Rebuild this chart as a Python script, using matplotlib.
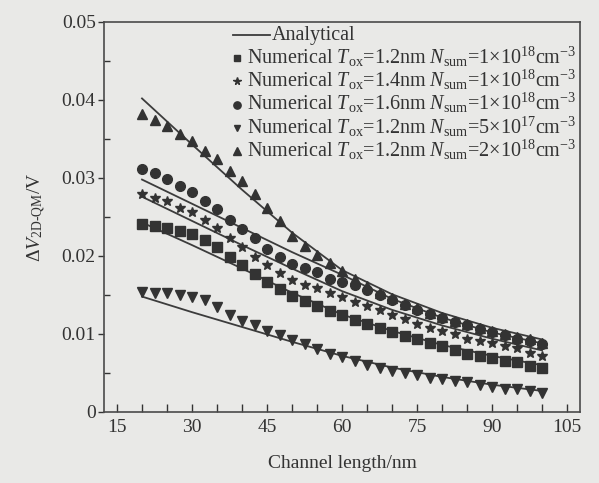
import numpy as np
import matplotlib
matplotlib.use("Agg")
import matplotlib.pyplot as plt
from matplotlib.ticker import MultipleLocator, FixedLocator, FixedFormatter

plt.rcParams['font.family'] = ['Liberation Serif', 'DejaVu Serif']
plt.rcParams['mathtext.fontset'] = 'custom'
plt.rcParams['mathtext.rm'] = 'Liberation Serif'
plt.rcParams['mathtext.it'] = 'Liberation Serif:italic'

# longueur du canal (nm) pour les points numeriques
L_num = np.arange(20, 100.1, 2.5)
# longueur du canal pour les courbes analytiques
L_ana = [20, 30, 40, 50, 60, 70, 80, 90, 100]

# courbes analytiques
ana_12_1e18 = [0.0243, 0.0214, 0.0184, 0.0153, 0.0125, 0.0104, 0.0086, 0.0072, 0.0060]
ana_14_1e18 = [0.0276, 0.0245, 0.0214, 0.0184, 0.0155, 0.0131, 0.0111, 0.0094, 0.0079]
ana_16_1e18 = [0.0298, 0.0267, 0.0236, 0.0205, 0.0176, 0.0145, 0.0121, 0.0102, 0.0088]
ana_12_5e17 = [0.0148, 0.0128, 0.0109, 0.0090, 0.0072, 0.0057, 0.0045, 0.0035, 0.0027]
ana_12_2e18 = [0.0402, 0.0343, 0.0285, 0.0230, 0.0182, 0.0151, 0.0127, 0.0108, 0.0093]

# resultats numeriques
num_12_1e18 = [0.0241, 0.0239, 0.0236, 0.0232, 0.0228, 0.0221, 0.0211, 0.0199, 0.0188,
               0.0177, 0.0167, 0.0158, 0.0149, 0.0142, 0.0136, 0.0129, 0.0124, 0.0118,
               0.0113, 0.0108, 0.0103, 0.0097, 0.0093, 0.0088, 0.0084, 0.0079, 0.0075,
               0.0072, 0.0069, 0.0066, 0.0064, 0.0059, 0.0056]
num_14_1e18 = [0.0279, 0.0274, 0.0270, 0.0262, 0.0256, 0.0246, 0.0236, 0.0223, 0.0211,
               0.0199, 0.0188, 0.0178, 0.0169, 0.0163, 0.0159, 0.0152, 0.0148, 0.0141,
               0.0136, 0.0131, 0.0125, 0.0119, 0.0113, 0.0108, 0.0104, 0.0100, 0.0094,
               0.0091, 0.0088, 0.0085, 0.0082, 0.0076, 0.0072]
num_16_1e18 = [0.0312, 0.0306, 0.0299, 0.0290, 0.0282, 0.0271, 0.0260, 0.0246, 0.0235,
               0.0223, 0.0209, 0.0199, 0.0190, 0.0184, 0.0180, 0.0171, 0.0167, 0.0163,
               0.0156, 0.0150, 0.0144, 0.0137, 0.0131, 0.0126, 0.0120, 0.0116, 0.0112,
               0.0106, 0.0102, 0.0099, 0.0094, 0.0091, 0.0087]
num_12_5e17 = [0.0154, 0.0153, 0.0152, 0.0150, 0.0148, 0.0143, 0.0135, 0.0125, 0.0117,
               0.0112, 0.0104, 0.0099, 0.0092, 0.0087, 0.0081, 0.0074, 0.0070, 0.0065,
               0.0060, 0.0056, 0.0053, 0.0050, 0.0047, 0.0044, 0.0042, 0.0040, 0.0038,
               0.0035, 0.0032, 0.0030, 0.0029, 0.0027, 0.0025]
num_12_2e18 = [0.0382, 0.0375, 0.0367, 0.0357, 0.0347, 0.0335, 0.0324, 0.0309, 0.0296,
               0.0279, 0.0261, 0.0245, 0.0226, 0.0213, 0.0201, 0.0191, 0.0181, 0.0171,
               0.0161, 0.0153, 0.0146, 0.0139, 0.0133, 0.0127, 0.0122, 0.0117, 0.0113,
               0.0108, 0.0104, 0.0100, 0.0096, 0.0093, 0.0089]

etiquetas = [
    r"Numerical $T_{\rm ox}$=1.2nm $N_{\rm sum}$=1×10$^{18}$cm$^{-3}$",
    r"Numerical $T_{\rm ox}$=1.4nm $N_{\rm sum}$=1×10$^{18}$cm$^{-3}$",
    r"Numerical $T_{\rm ox}$=1.6nm $N_{\rm sum}$=1×10$^{18}$cm$^{-3}$",
    r"Numerical $T_{\rm ox}$=1.2nm $N_{\rm sum}$=5×10$^{17}$cm$^{-3}$",
    r"Numerical $T_{\rm ox}$=1.2nm $N_{\rm sum}$=2×10$^{18}$cm$^{-3}$",
]
marcadores = ['s', '*', 'o', 'v', '^']
tamanhos = [6.5, 7.5, 7, 6.5, 7]

x_ticks = [15, 30, 45, 60, 75, 90, 105]
y_ticks = [0, 0.01, 0.02, 0.03, 0.04, 0.05]
y_rotulos = ['0', '0.01', '0.02', '0.03', '0.04', '0.05']

cor_fundo = '#e9e9e7'
cor_tinta = '#333333'

fig = plt.figure(figsize=(5.99, 4.83), dpi=100, facecolor=cor_fundo)
ax = fig.add_axes([104 / 599, 1 - 412 / 483, 476 / 599, 390 / 483])
ax.set_facecolor(cor_fundo)

for ana in [ana_12_1e18, ana_14_1e18, ana_16_1e18, ana_12_5e17, ana_12_2e18]:
    ax.plot(L_ana, ana, color='#3c3c3c', lw=1.3, zorder=2)

series = [num_12_1e18, num_14_1e18, num_16_1e18, num_12_5e17, num_12_2e18]
for vals, m, s in zip(series, marcadores, tamanhos):
    ax.plot(L_num, vals, ls='none', marker=m, ms=s, color=cor_tinta, mec=cor_tinta, zorder=3)

ax.set_xlim(12.4, 107.6)
ax.set_ylim(0, 0.05)
ax.xaxis.set_major_locator(FixedLocator(x_ticks))
ax.xaxis.set_minor_locator(MultipleLocator(5))
ax.yaxis.set_major_locator(FixedLocator(y_ticks))
ax.yaxis.set_major_formatter(FixedFormatter(y_rotulos))
ax.yaxis.set_minor_locator(FixedLocator([0.005, 0.015, 0.025, 0.035, 0.045]))

ax.tick_params(axis='x', which='both', direction='in', length=6, width=1,
               colors=cor_tinta, labelsize=14, pad=5)
ax.tick_params(axis='y', which='major', direction='out', length=4, width=1,
               colors=cor_tinta, labelsize=14, pad=2)
ax.tick_params(axis='y', which='minor', direction='in', length=4, width=1, colors=cor_tinta)
for sp in ax.spines.values():
    sp.set_color('#4a4a4a')
    sp.set_linewidth(1.2)

ax.set_xlabel('Channel length/nm', fontsize=14, color=cor_tinta, labelpad=14)
ax.set_ylabel(r'$\mathit{\Delta} V_{\rm 2D\text{-}QM}$/V', fontsize=14, color=cor_tinta, labelpad=10)

# legenda desenhada a mao
y0 = 0.9526
dy = 0.0595
ax.plot([0.271, 0.349], [y0 + 0.014] * 2, transform=ax.transAxes, color='#3c3c3c', lw=1.3)
ax.text(0.353, y0, 'Analytical', transform=ax.transAxes, fontsize=14.5,
        color=cor_tinta, va='baseline', ha='left')
for k, (lab, m, s) in enumerate(zip(etiquetas, marcadores, tamanhos)):
    yy = y0 - dy * (k + 1)
    ax.plot([0.279], [yy + 0.014], transform=ax.transAxes, ls='none', marker=m,
            ms=s * 0.75, color=cor_tinta)
    ax.text(0.300, yy, lab, transform=ax.transAxes, fontsize=14.5,
            color=cor_tinta, va='baseline', ha='left')

fig.savefig('out.png', dpi=100, facecolor=cor_fundo)
